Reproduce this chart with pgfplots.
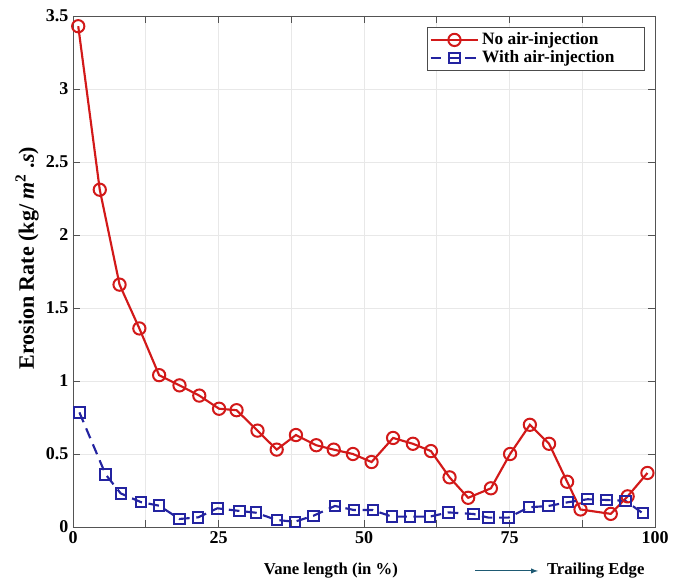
\documentclass[border=0pt]{standalone}
\usepackage{fontspec}
\setmainfont{Liberation Serif}
\usepackage{pgfplots}
\pgfplotsset{compat=1.18}
\usetikzlibrary{calc}
\definecolor{myred}{RGB}{210,25,25}
\definecolor{myblue}{RGB}{35,35,160}
\definecolor{arrowc}{RGB}{30,90,115}
\begin{document}
\begin{tikzpicture}
\begin{axis}[name=ax, scale only axis, width=436.5pt, height=383.25pt,
  xmin=0, xmax=100, ymin=0, ymax=3.5,
  xtick={0,12.5,...,100}, xticklabels={0,,25,,50,,75,,100},
  ytick={0,0.5,...,3.5}, yticklabels={0,0.5,1,1.5,2,2.5,3,3.5},
  grid=major, grid style={gray!18, line width=0.5pt},
  axis line style={gray!65!black, line width=0.6pt},
  tick style={gray!65!black, line width=0.6pt},
  tick align=inside, major tick length=5pt,
  tick label style={font=\bfseries\fontsize{13.5}{15}\selectfont},
  /pgf/number format/assume math mode=true,
  clip=false,
  xlabel={Vane length (in \%)},
  xlabel style={at={(axis description cs:0.443,-0.086)}, anchor=center, font=\bfseries\fontsize{12.5}{14}\selectfont},
  ylabel={Erosion Rate (kg/ \textit{m}\textsuperscript{2} .\textit{s})},
  ylabel style={at={(axis description cs:-0.079,0.526)}, anchor=center, font=\bfseries\fontsize{16.5}{18}\selectfont},
  legend cell align=left,
  legend style={at={(axis description cs:0.983,0.978)}, anchor=north east,
    font=\bfseries\fontsize{13}{15}\selectfont, draw=gray!60!black, line width=0.5pt,
    inner xsep=2pt, inner ysep=2pt, row sep=-1pt},
  legend image code/.code={\draw[mark repeat=2,mark phase=2] plot coordinates {(0cm,0cm) (0.63cm,0cm) (1.26cm,0cm)};},
]
\addplot[myred, line width=1.6pt, mark=o, mark size=4.6pt, mark options={line width=1.5pt}] coordinates {
(0.9,3.43) (4.6,2.31) (8.0,1.66) (11.4,1.36) (14.8,1.04) (18.3,0.97) (21.7,0.90) (25.1,0.81) (28.1,0.80) (31.7,0.66)
(35.0,0.53) (38.3,0.63) (41.8,0.56) (44.8,0.53) (48.1,0.50) (51.3,0.445) (55.0,0.61) (58.4,0.57) (61.5,0.52) (64.7,0.34)
(67.9,0.20) (71.8,0.265) (75.1,0.50) (78.5,0.70) (81.8,0.57) (84.9,0.31) (87.2,0.12) (92.4,0.09) (95.3,0.21) (98.7,0.37)
};
\addlegendentry{\makebox[118pt][l]{No air-injection}}
\addplot[myblue, line width=1.6pt, dash pattern=on 8pt off 5pt, mark=square, mark size=3.9pt, mark options={solid, line width=1.5pt}] coordinates {
(1.1,0.785) (5.6,0.36) (8.2,0.23) (11.7,0.17) (14.8,0.146) (18.3,0.055) (21.5,0.066) (24.8,0.128) (28.6,0.11) (31.4,0.098)
(35.0,0.048) (38.1,0.036) (41.3,0.077) (45.0,0.144) (48.3,0.116) (51.5,0.116) (54.8,0.071) (57.9,0.071) (61.3,0.071) (64.5,0.10)
(68.8,0.089) (71.4,0.064) (74.8,0.064) (78.3,0.135) (81.7,0.144) (85.1,0.17) (88.4,0.19) (91.7,0.185) (94.9,0.18) (97.9,0.094)
};
\addlegendentry{\makebox[118pt][l]{With air-injection}}
\draw[arrowc, line width=0.8pt, -latex] (axis description cs:0.691,-0.086) -- (axis description cs:0.799,-0.086);
\node[anchor=west, font=\bfseries\fontsize{12.5}{14}\selectfont, inner sep=0pt] at (axis description cs:0.814,-0.086) {Trailing Edge};
\end{axis}
\pgfresetboundingbox
\path ($(ax.south west)+(-54.75pt,-43.5pt)$) rectangle ($(ax.north east)+(22.5pt,12pt)$);
\end{tikzpicture}
\end{document}
